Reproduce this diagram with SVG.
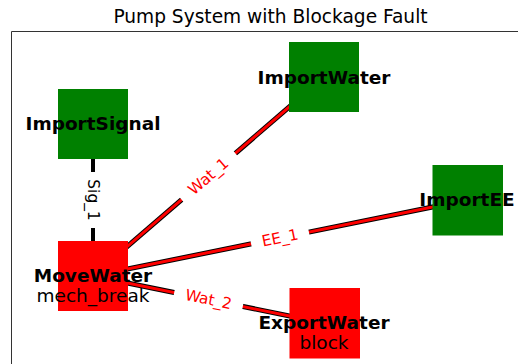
<svg xmlns="http://www.w3.org/2000/svg" width="518" height="364" viewBox="0 0 518 364">
  <style>
    .title { font-family: "DejaVu Sans", sans-serif; font-size: 18.6px; fill: #000; }
    .frame { fill: none; stroke: #333; stroke-width: 1; }
    .node-src { fill: #008000; }
    .node-fault { fill: #ff0000; }
    .name { font-family: "DejaVu Sans", sans-serif; font-size: 18.5px; font-weight: bold; fill: #000; text-anchor: middle; }
    .mode { font-family: "DejaVu Sans", sans-serif; font-size: 18.5px; fill: #000; text-anchor: middle; }
    .flow-edge { stroke: #000; stroke-width: 5; fill: none; }
    .flow-core { stroke: #ff0000; stroke-width: 3; fill: none; }
    .sig-edge { stroke: #000; stroke-width: 4; fill: none; }
    .lbl-box { fill: #fff; stroke: none; }
    .flow-lbl { font-family: "DejaVu Sans", sans-serif; font-size: 15.4px; fill: #ff0000; text-anchor: middle; dominant-baseline: central; }
    .sig-lbl { font-family: "DejaVu Sans", sans-serif; font-size: 15.4px; fill: #000; text-anchor: middle; dominant-baseline: central; }
  </style>

  <text class="title" x="270.5" y="22.7" text-anchor="middle">Pump System with Blockage Fault</text>

  <!-- axes frame -->
  <path class="frame" d="M11.5,364 V31.5 H518"/>

  <g id="connectors">
    <!-- Sig_1: ImportSignal -> MoveWater -->
    <line class="sig-edge" x1="93" y1="124" x2="93" y2="276"/>
    <!-- Wat_1: ImportWater -> MoveWater -->
    <line class="flow-edge" x1="93" y1="276" x2="324" y2="77"/>
    <line class="flow-core" x1="93" y1="276" x2="324" y2="77"/>
    <!-- EE_1: ImportEE -> MoveWater -->
    <line class="flow-edge" x1="93" y1="276" x2="467" y2="200"/>
    <line class="flow-core" x1="93" y1="276" x2="467" y2="200"/>
    <!-- Wat_2: MoveWater -> ExportWater -->
    <line class="flow-edge" x1="93" y1="276" x2="324" y2="323"/>
    <line class="flow-core" x1="93" y1="276" x2="324" y2="323"/>

    <!-- edge labels -->
    <g transform="translate(93,200) rotate(90)">
      <rect class="lbl-box" x="-28" y="-11" width="56" height="22" rx="6"/>
      <text class="sig-lbl" x="0" y="0">Sig_1</text>
    </g>
    <g transform="translate(208.5,176.5) rotate(-40.7)">
      <rect class="lbl-box" x="-35.5" y="-12" width="71" height="24" rx="7"/>
      <text class="flow-lbl" x="0" y="0">Wat_1</text>
    </g>
    <g transform="translate(280,238) rotate(-11.5)">
      <rect class="lbl-box" x="-29.5" y="-12" width="59" height="24" rx="7"/>
      <text class="flow-lbl" x="0" y="0">EE_1</text>
    </g>
    <g transform="translate(208.5,299.5) rotate(11.5)">
      <rect class="lbl-box" x="-35" y="-12" width="70" height="24" rx="7"/>
      <text class="flow-lbl" x="0" y="0">Wat_2</text>
    </g>
  </g>

  <g id="ImportSignal">
    <rect class="node-src" x="58" y="89" width="70" height="70"/>
    <text class="name" x="93" y="130">ImportSignal</text>
  </g>

  <g id="ImportWater">
    <rect class="node-src" x="289" y="42" width="70" height="70"/>
    <text class="name" x="324" y="83.5">ImportWater</text>
  </g>

  <g id="ImportEE">
    <rect class="node-src" x="432.5" y="165" width="70.5" height="70.5"/>
    <text class="name" x="467" y="205.5">ImportEE</text>
  </g>

  <g id="MoveWater">
    <rect class="node-fault" x="58" y="241" width="70" height="70"/>
    <text class="name" x="93" y="281.7">MoveWater</text>
    <text class="mode" x="93" y="301.7">mech_break</text>
  </g>

  <g id="ExportWater">
    <rect class="node-fault" x="289.5" y="288" width="70.5" height="70.5"/>
    <text class="name" x="324" y="329">ExportWater</text>
    <text class="mode" x="324" y="349">block</text>
  </g>
</svg>
